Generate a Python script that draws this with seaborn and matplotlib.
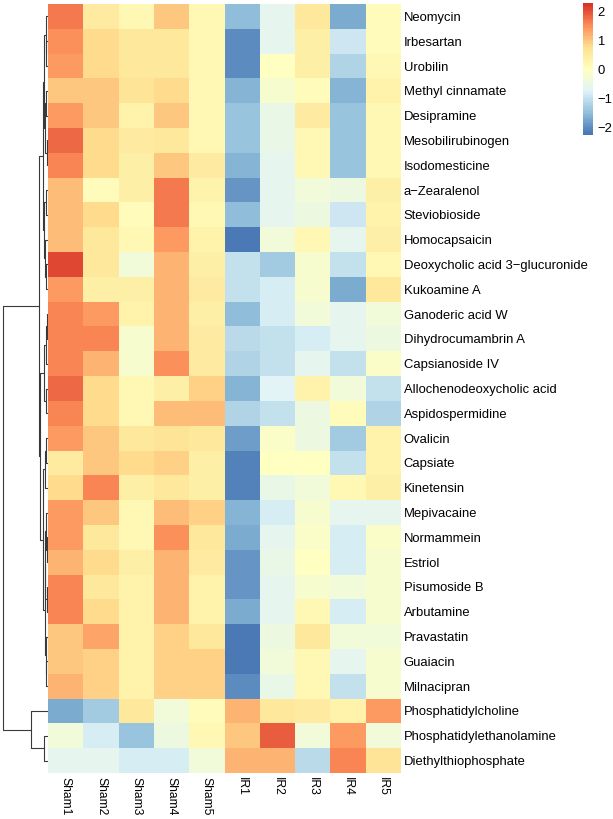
import numpy as np
import pandas as pd
import matplotlib
matplotlib.use("Agg")
import matplotlib.pyplot as plt
import seaborn as sns
from matplotlib.colors import LinearSegmentedColormap

# sample columns and metabolite rows (in the order shown)
samples = ["Sham1", "Sham2", "Sham3", "Sham4", "Sham5", "IR1", "IR2", "IR3", "IR4", "IR5"]
metabolites = [
    "Neomycin", "Irbesartan", "Urobilin", "Methyl cinnamate", "Desipramine",
    "Mesobilirubinogen", "Isodomesticine", "a\u2212Zearalenol", "Steviobioside", "Homocapsaicin",
    "Deoxycholic acid 3\u2212glucuronide", "Kukoamine A", "Ganoderic acid W", "Dihydrocumambrin A",
    "Capsianoside IV", "Allochenodeoxycholic acid", "Aspidospermidine", "Ovalicin", "Capsiate",
    "Kinetensin", "Mepivacaine", "Normammein", "Estriol", "Pisumoside B", "Arbutamine",
    "Pravastatin", "Guaiacin", "Milnacipran", "Phosphatidylcholine",
    "Phosphatidylethanolamine", "Diethylthiophosphate",
]

# row-scaled values, one list per row
zscores = [
    [1.7, 0.5, 0.2, 1.0, 0.2, -1.5, -0.6, 0.6, -1.7, 0.1],
    [1.5, 0.8, 0.6, 0.6, 0.2, -2.0, -0.6, 0.4, -0.9, 0.1],
    [1.4, 0.8, 0.6, 0.6, 0.2, -2.0, 0.0, 0.4, -1.2, 0.2],
    [1.0, 1.0, 0.7, 0.8, 0.2, -1.6, -0.2, 0.1, -1.6, 0.3],
    [1.4, 1.0, 0.3, 1.0, 0.2, -1.4, -0.5, 0.5, -1.4, 0.2],
    [1.8, 0.8, 0.5, 0.6, 0.2, -1.4, -0.5, 0.2, -1.4, 0.2],
    [1.6, 0.8, 0.4, 1.0, 0.5, -1.6, -0.6, 0.2, -1.4, 0.2],
    [1.1, 0.1, 0.4, 1.7, 0.3, -1.9, -0.6, -0.3, -0.4, 0.4],
    [1.1, 0.8, 0.1, 1.7, 0.2, -1.5, -0.6, -0.4, -0.9, 0.3],
    [1.1, 0.6, 0.2, 1.4, 0.3, -2.2, -0.3, 0.2, -0.6, 0.4],
    [2.1, 0.6, -0.3, 1.2, 0.4, -1.0, -1.3, -0.2, -1.0, 0.2],
    [1.4, 0.4, 0.4, 1.2, 0.5, -1.0, -0.8, -0.2, -1.7, 0.6],
    [1.6, 1.4, 0.3, 1.2, 0.4, -1.5, -0.8, -0.3, -0.6, -0.3],
    [1.6, 1.6, -0.2, 1.2, 0.5, -1.1, -1.0, -0.8, -0.6, -0.4],
    [1.6, 1.2, -0.2, 1.5, 0.5, -1.2, -1.0, -0.6, -1.0, -0.1],
    [1.8, 0.8, 0.2, 0.4, 0.9, -1.6, -0.7, 0.3, -0.3, -1.0],
    [1.6, 0.8, 0.2, 1.1, 1.1, -1.2, -1.0, -0.4, 0.1, -1.2],
    [1.4, 1.0, 0.6, 0.7, 0.6, -1.8, -0.1, -0.4, -1.3, 0.3],
    [0.5, 1.0, 0.8, 0.9, 0.4, -2.1, 0.0, 0.0, -1.0, 0.3],
    [0.8, 1.6, 0.4, 0.6, 0.4, -2.1, -0.5, -0.3, 0.2, 0.4],
    [1.4, 1.0, 0.2, 1.1, 0.9, -1.6, -0.8, -0.2, -0.6, -0.6],
    [1.4, 0.6, 0.2, 1.5, 0.6, -1.7, -0.6, -0.1, -0.8, -0.1],
    [1.2, 0.8, 0.4, 1.2, 0.5, -1.9, -0.5, 0.0, -0.8, -0.2],
    [1.6, 0.6, 0.3, 1.2, 0.3, -1.9, -0.6, -0.2, -0.3, -0.2],
    [1.6, 0.8, 0.3, 1.2, 0.3, -1.7, -0.6, 0.2, -0.8, -0.2],
    [1.0, 1.3, 0.3, 0.9, 0.6, -2.2, -0.4, 0.6, -0.3, -0.3],
    [1.0, 0.9, 0.3, 0.9, 0.9, -2.2, -0.3, 0.2, -0.6, -0.2],
    [1.2, 0.9, 0.3, 0.9, 0.9, -2.0, -0.5, 0.2, -1.0, -0.2],
    [-1.7, -1.3, 0.6, -0.3, 0.1, 1.2, 0.6, 0.5, 0.3, 1.4],
    [-0.3, -0.8, -1.4, -0.4, 0.2, 1.0, 1.9, -0.3, 1.4, -0.3],
    [-0.6, -0.6, -0.8, -0.8, -0.3, 1.2, 1.2, -1.1, 1.6, 0.7],
]

# row dendrogram merges: (left id, right id, height); ids >= 31 are earlier merges
merges = [
    (1, 2, 0.35), (0, 31, 0.55), (3, 4, 0.4), (5, 6, 0.3), (33, 34, 0.6),
    (32, 35, 0.85), (7, 8, 0.35), (10, 11, 0.5), (9, 38, 0.65), (37, 39, 0.8),
    (36, 40, 1.1), (12, 13, 0.3), (14, 42, 0.5), (15, 16, 0.45), (43, 44, 0.9),
    (17, 18, 0.4), (46, 19, 0.6), (21, 22, 0.3), (20, 48, 0.45), (23, 24, 0.3),
    (49, 50, 0.6), (26, 27, 0.35), (25, 52, 0.5), (51, 53, 0.75), (47, 54, 1.0),
    (45, 55, 1.8), (41, 56, 2.0), (29, 30, 0.9), (28, 58, 3.8), (57, 59, 10.0),
]

palette = ["#4575B4", "#91BFDB", "#E0F3F8", "#FFFFBF", "#FEE090", "#FC8D59", "#D73027"]
cmap = LinearSegmentedColormap.from_list("pheat", palette, N=100)

df = pd.DataFrame(zscores, index=metabolites, columns=samples)
n = len(metabolites)

W, H = 613, 819
fig = plt.figure(figsize=(W / 100, H / 100), dpi=100)
plt.rcParams["font.family"] = ["Liberation Sans", "DejaVu Sans"]

def frac(x0, y0, x1, y1):
    return [x0 / W, 1 - y1 / H, (x1 - x0) / W, (y1 - y0) / H]

ax = fig.add_axes(frac(48, 4, 401, 773))
cax = fig.add_axes(frac(583, 3, 593, 135))
dax = fig.add_axes(frac(0, 4, 48, 773))

sns.heatmap(df, ax=ax, cmap=cmap, vmin=-2.25, vmax=2.3, cbar_ax=cax,
            linewidths=0, xticklabels=True, yticklabels=True)

ax.yaxis.tick_right()
ax.set_ylabel("")
ax.set_xlabel("")
ax.tick_params(axis="y", length=0, labelsize=9.4, pad=2)
ax.tick_params(axis="x", length=0, labelsize=8.7, pad=3)
plt.setp(ax.get_yticklabels(), rotation=0, ha="left")
plt.setp(ax.get_xticklabels(), rotation=270, ha="center", va="top")

cbar = ax.collections[0].colorbar
cbar.outline.set_visible(False)
cbar.set_ticks([-2, -1, 0, 1, 2])
cax.tick_params(length=0, labelsize=9.4, pad=3)

# dendrogram
pos = {i: i + 0.5 for i in range(n)}
hgt = {i: 0.0 for i in range(n)}
for k, (a, b, h) in enumerate(merges):
    nid = n + k
    dax.plot([hgt[a], h, h, hgt[b]], [pos[a], pos[a], pos[b], pos[b]],
             color="#3a3a3a", lw=0.8, solid_capstyle="butt")
    pos[nid] = (pos[a] + pos[b]) / 2
    hgt[nid] = h

dax.set_ylim(n, 0)
dax.set_xlim(48 / 4.5, 0)
dax.axis("off")

fig.savefig("out.png", dpi=100)
